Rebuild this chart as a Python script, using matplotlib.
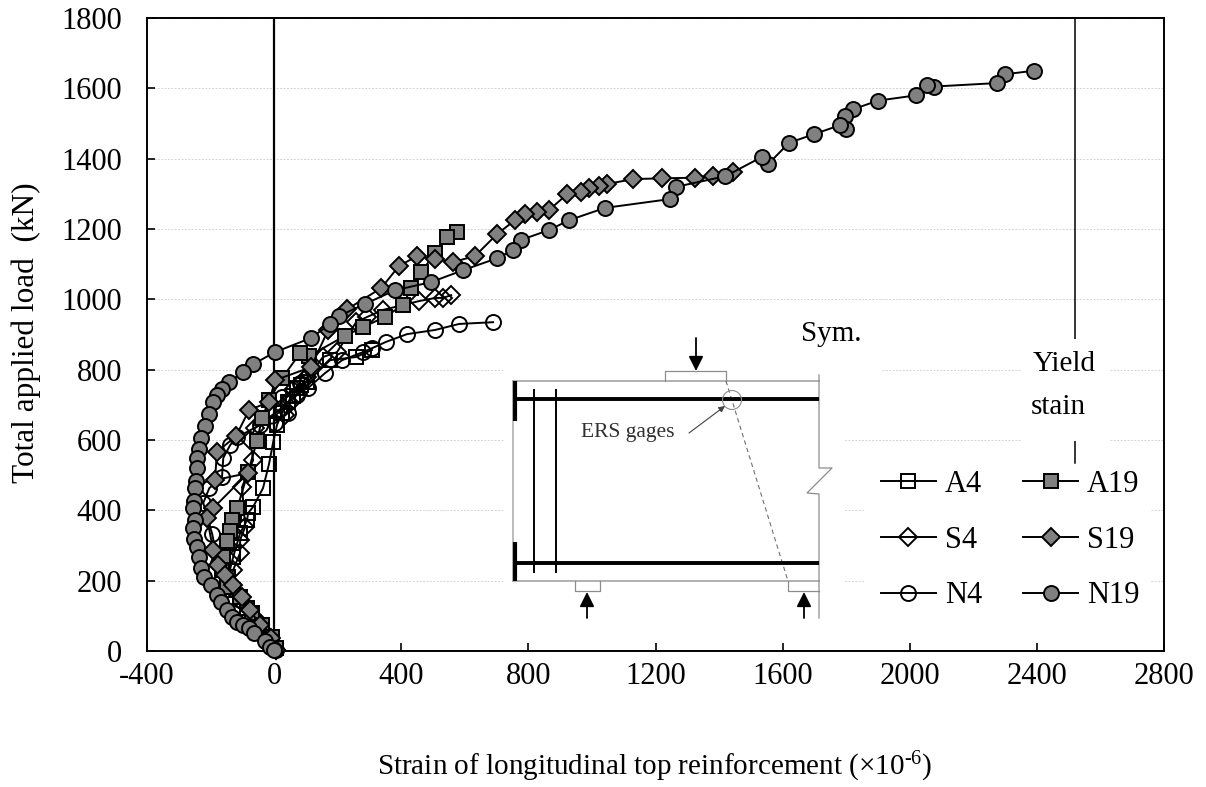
import matplotlib
matplotlib.use('Agg')
import matplotlib.pyplot as plt
from matplotlib.patches import Rectangle, Circle

plt.rcParams['font.family'] = ['Liberation Serif', 'DejaVu Serif']
plt.rcParams['mathtext.fontset'] = 'custom'
plt.rcParams['mathtext.rm'] = 'Liberation Serif'
plt.rcParams['mathtext.it'] = 'Liberation Serif'
plt.rcParams['axes.unicode_minus'] = False

# strain (x1e-6) / load (kN)
a4_x = [308, 258, 176, 104, 85, 72, 60, 44, 25, 9, -3, -16, -35, -66, -82, -85, -107, -129, -145, -129, -85, -44, -9, 6]
a4_y = [856, 836, 827, 765, 755, 748, 725, 708, 677, 643, 594, 532, 463, 410, 392, 372, 335, 267, 210, 173, 122, 74, 40, 9]

a19_x = [576, 544, 507, 463, 431, 406, 349, 280, 223, 110, 82, 25, -16, -38, -54, -82, -116, -132, -138, -148, -160, -164, -148, -107, -69, -38, -6, 6]
a19_y = [1192, 1178, 1132, 1078, 1032, 984, 950, 921, 896, 839, 847, 776, 714, 662, 597, 509, 406, 372, 341, 313, 267, 230, 182, 154, 108, 74, 40, 9]

s4_x = [557, 532, 507, 456, 343, 293, 258, 198, 154, 104, 95, 75, 60, 50, 35, 28, -60, -76, -66, -101, -91, -107, -107, -129, -138, -98, -54, -13, 6]
s4_y = [1012, 1004, 1004, 995, 970, 950, 935, 850, 836, 779, 770, 730, 742, 705, 670, 694, 634, 600, 543, 466, 353, 316, 279, 230, 182, 136, 88, 37, 3]

s19_x = [1445, 1380, 1325, 1220, 1130, 1048, 1022, 991, 966, 922, 865, 827, 790, 758, 702, 632, 563, 507, 450, 393, 337, 230, 170, 116, 3, -16, -79, -120, -180, -186, -82, -192, -211, -192, -176, -154, -129, -101, -76, -44, -9, 6]
s19_y = [1362, 1352, 1346, 1344, 1342, 1328, 1322, 1316, 1305, 1299, 1254, 1248, 1243, 1225, 1186, 1123, 1106, 1114, 1123, 1095, 1032, 972, 913, 807, 770, 708, 685, 611, 566, 486, 506, 406, 378, 287, 245, 216, 188, 154, 117, 74, 37, 3]

n4_x = [689, 582, 507, 418, 352, 308, 280, 214, 160, 107, 82, 72, 25, 44, 3, -44, -116, -138, -160, -164, -204, -223, -195, -176, -148, -107, -66, -22, 6]
n4_y = [935, 930, 913, 901, 879, 861, 850, 827, 790, 748, 762, 728, 722, 677, 648, 643, 608, 586, 549, 495, 463, 421, 333, 250, 193, 145, 88, 31, 3]

n19_x = [2390, 2300, 2275, 2075, 2055, 2020, 1900, 1820, 1795, 1800, 1780, 1700, 1620, 1555, 1535, 1420, 1265, 1245, 1041, 928, 865, 777, 752, 702, 595, 494, 381, 286, 205, 176, 116, 3, -65, -98, -142, -163, -180, -192, -204, -217, -230, -236, -242, -242, -245, -249, -252, -255, -249, -255, -252, -242, -236, -230, -220, -198, -179, -167, -148, -132, -116, -98, -79, -63, -28, -13, 0]
n19_y = [1650, 1640, 1615, 1605, 1610, 1580, 1565, 1540, 1520, 1485, 1495, 1470, 1445, 1385, 1405, 1350, 1320, 1285, 1260, 1225, 1197, 1169, 1140, 1117, 1083, 1049, 1026, 987, 953, 930, 890, 850, 816, 793, 765, 745, 728, 708, 674, 640, 605, 574, 549, 520, 483, 463, 426, 406, 372, 350, 318, 296, 267, 236, 210, 188, 159, 140, 117, 97, 82, 74, 65, 51, 28, 11, 3]

yield_strain = 2520
x_ticks = list(range(-400, 2801, 400))
y_ticks = list(range(0, 1801, 200))

W, H = 1206, 787
fig = plt.figure(figsize=(W / 100, H / 100), dpi=100)
ax = fig.add_axes([147 / W, 1 - 651 / H, (1164 - 147) / W, (651 - 18) / H])

gray = '#808080'
style = dict(color='k', lw=1.4, mec='k', mew=1.4, clip_on=False)
l_a4, = ax.plot(a4_x, a4_y, marker='s', ms=9.8, mfc='none', zorder=3, **style)
l_s4, = ax.plot(s4_x, s4_y, marker='D', ms=8.8, mfc='none', zorder=3, **style)
l_n4, = ax.plot(n4_x, n4_y, marker='o', ms=10.8, mfc='none', zorder=3, **style)
l_a19, = ax.plot(a19_x, a19_y, marker='s', ms=9.8, mfc=gray, zorder=4, **style)
l_s19, = ax.plot(s19_x, s19_y, marker='D', ms=8.8, mfc=gray, zorder=5, **style)
l_n19, = ax.plot(n19_x, n19_y, marker='o', ms=10.8, mfc=gray, zorder=6, **style)

ax.axvline(0, color='k', lw=1.6, zorder=2)
ax.axvline(yield_strain, ymin=0.297, color='k', lw=1.1, zorder=2)

ax.set_xlim(-400, 2800)
ax.set_ylim(0, 1800)
ax.set_xticks(x_ticks)
ax.set_yticks(y_ticks)
ax.tick_params(direction='in', length=6, width=1.2, labelsize=22)
ax.tick_params(axis='x', pad=8)
ax.tick_params(axis='y', pad=18)
ax.grid(axis='y', color='#d4d4d4', lw=0.7, ls=(0, (2, 1.5)))
ax.set_axisbelow(True)
for s in ax.spines.values():
    s.set_linewidth(1.4)

# full-figure overlay in pixel coordinates for the beam sketch and labels
ov = fig.add_axes([0, 0, 1, 1], facecolor='none')
ov.set_xlim(0, W)
ov.set_ylim(H, 0)
ov.axis('off')

for x0, y0, x1, y1 in [(504, 325, 845, 622), (790, 318, 881, 385), (1022, 339, 1110, 441),
                       (1022, 441, 1070, 470), (1079, 441, 1110, 470), (864, 465, 1150, 610)]:
    ov.add_patch(Rectangle((x0, y0), x1 - x0, y1 - y0, fc='w', ec='none', zorder=1))

ol = '#8c8c8c'
# concrete outline
ov.plot([513, 819], [381, 381], color='#b0b0b0', lw=1.4, zorder=2)
ov.plot([513, 819], [581, 581], color='#b0b0b0', lw=1.4, zorder=2)
ov.plot([513, 513], [381, 581], color='#b0b0b0', lw=1.2, zorder=2)
ov.plot([819, 819, 832, 807, 819, 819], [375, 468, 468, 493, 494, 618], color=ol, lw=0.9, zorder=2)
# plates
ov.plot([665, 665, 726, 726], [381, 371, 371, 381], color=ol, lw=0.9, zorder=2)
ov.plot([575, 575, 600, 600], [581, 591, 591, 581], color=ol, lw=0.9, zorder=2)
ov.plot([788, 788, 819], [581, 591, 591], color=ol, lw=0.9, zorder=2)
# rebars and stirrups
ov.plot([515, 819], [399, 399], color='k', lw=2.8, solid_capstyle='butt', zorder=3)
ov.plot([515, 819], [563, 563], color='k', lw=2.8, solid_capstyle='butt', zorder=3)
ov.plot([515, 515], [381, 421], color='k', lw=3, solid_capstyle='butt', zorder=3)
ov.plot([515, 515], [542, 581], color='k', lw=3, solid_capstyle='butt', zorder=3)
for xs in (534, 556):
    ov.plot([xs, xs], [390, 572], color='k', lw=1.4, zorder=3)
# crack line and gauge
ov.plot([726, 788], [381, 581], color='#707070', lw=0.8, ls=(0, (4, 3)), zorder=2)
ov.add_patch(Circle((732, 400), 9.5, fc='none', ec=ol, lw=0.8, zorder=3))
ov.annotate('', xy=(725, 406), xytext=(689, 433), zorder=4,
            arrowprops=dict(arrowstyle='-|>', color='#404040', lw=0.8, mutation_scale=9, shrinkA=0, shrinkB=0))
ov.text(628, 433, 'ERS gages', fontsize=15.5, color='#303030', ha='center', va='center', zorder=4)
# load arrows
for x_tail, y_tail, x_tip, y_tip in [(696, 338, 696, 371), (587, 618, 587, 592), (804, 618, 804, 592)]:
    ov.annotate('', xy=(x_tip, y_tip), xytext=(x_tail, y_tail), zorder=4,
                arrowprops=dict(arrowstyle='-|>', color='k', lw=1.3, mutation_scale=22, shrinkA=0, shrinkB=0))

ov.text(831, 334, 'Sym.', fontsize=21, ha='center', va='center', zorder=4)
ov.text(1064, 364, 'Yield', fontsize=21, ha='center', va='center', zorder=4)
ov.text(1058, 407, 'stain', fontsize=21, ha='center', va='center', zorder=4)

leg = ov.legend([l_a4, l_s4, l_n4, l_a19, l_s19, l_n19], ['A4', 'S4', 'N4', 'A19', 'S19', 'N19'],
                ncol=2, loc='center left', bbox_to_anchor=(881 / W, 1 - 540 / H), frameon=False,
                fontsize=22, handlelength=1.8, handletextpad=0.3, columnspacing=1.33,
                labelspacing=0.88, borderpad=0, borderaxespad=0, markerscale=1)
leg.set_zorder(5)

ov.text(655, 767, r'Strain of longitudinal top reinforcement ($\times$10$^{\text{-6}}$)', fontsize=21,
        ha='center', va='center', zorder=4)
ov.text(26, 333, 'Total applied load  (kN)', fontsize=22.5, rotation=90,
        ha='center', va='center', zorder=4)

fig.savefig('out.png', dpi=100)
